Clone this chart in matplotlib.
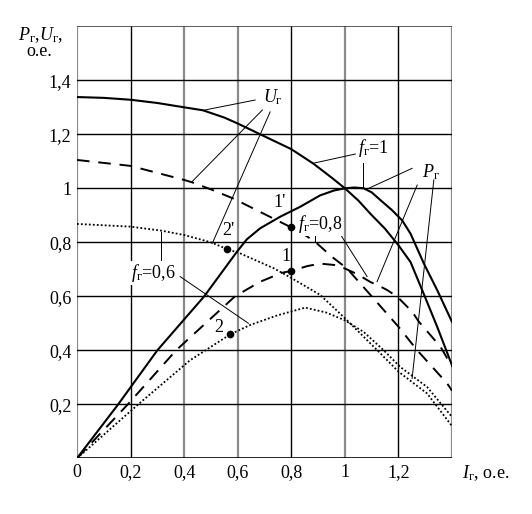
import matplotlib
matplotlib.use("Agg")
import matplotlib.pyplot as plt

plt.rcParams['font.family'] = ['Liberation Serif', 'DejaVu Serif']
plt.rcParams['mathtext.fontset'] = 'custom'
plt.rcParams['mathtext.rm'] = 'Liberation Serif'
plt.rcParams['mathtext.it'] = 'Liberation Serif:italic'

# U_g and P_g curves
u1_x = [0, 0.1, 0.2, 0.3, 0.4, 0.47, 0.55, 0.6, 0.684, 0.8, 0.883, 0.95, 1.0,
        1.05, 1.095, 1.15, 1.2, 1.245, 1.289, 1.345, 1.4]
u1_y = [1.338, 1.335, 1.328, 1.316, 1.30, 1.289, 1.262, 1.24, 1.20, 1.145, 1.091,
        1.04, 1.0, 0.955, 0.906, 0.85, 0.789, 0.727, 0.622, 0.486, 0.344]

p1_x = [0, 0.154, 0.3, 0.475, 0.597, 0.634, 0.684, 0.759, 0.834, 0.908, 0.96,
        1.0, 1.035, 1.07, 1.1, 1.133, 1.175, 1.214, 1.245, 1.295, 1.345, 1.4]
p1_y = [0, 0.2, 0.4, 0.6, 0.765, 0.811, 0.852, 0.895, 0.932, 0.974, 0.992,
        1.0, 1.003, 1.0, 0.985, 0.956, 0.92, 0.881, 0.832, 0.721, 0.622, 0.505]

u08_x = [0, 0.2, 0.4, 0.43, 0.5, 0.584, 0.709, 0.8, 0.834, 0.89, 0.952, 1.008,
         1.058, 1.108, 1.201, 1.27, 1.382, 1.4]
u08_y = [1.105, 1.083, 1.031, 1.022, 0.996, 0.962, 0.9, 0.855, 0.838, 0.801,
         0.746, 0.703, 0.647, 0.591, 0.486, 0.4, 0.277, 0.25]

p08_x = [0, 0.19, 0.37, 0.59, 0.684, 0.765, 0.8, 0.86, 0.908, 0.96, 1.0, 1.05,
         1.095, 1.133, 1.158, 1.195, 1.214, 1.251, 1.276, 1.357, 1.4]
p08_y = [0, 0.2, 0.4, 0.6, 0.654, 0.687, 0.694, 0.712, 0.721, 0.716, 0.703, 0.68,
         0.653, 0.636, 0.623, 0.599, 0.58, 0.543, 0.506, 0.413, 0.339]

u06_x = [0, 0.2, 0.316, 0.4, 0.5, 0.56, 0.609, 0.734, 0.8, 0.908, 1.0, 1.058,
         1.133, 1.201, 1.307, 1.4]
u06_y = [0.868, 0.858, 0.843, 0.827, 0.80, 0.775, 0.759, 0.704, 0.668, 0.605,
         0.519, 0.462, 0.388, 0.32, 0.24, 0.119]

p06_x = [0, 0.229, 0.422, 0.572, 0.647, 0.75, 0.852, 0.93, 1.0, 1.07, 1.145,
         1.207, 1.307, 1.4]
p06_y = [0, 0.2, 0.363, 0.459, 0.494, 0.53, 0.558, 0.54, 0.511, 0.468, 0.4,
         0.338, 0.264, 0.153]

# marked points 1', 1, 2', 2
pt_names = ["1'", "1", "2'", "2"]
pt_x = [0.8, 0.8, 0.56, 0.572]
pt_y = [0.855, 0.694, 0.775, 0.459]

x_ticks = [0, 0.2, 0.4, 0.6, 0.8, 1.0, 1.2, 1.4]
x_tick_labels = ["0", "0,2", "0,4", "0,6", "0,8", "1", "1,2", ""]
y_ticks = [0.2, 0.4, 0.6, 0.8, 1.0, 1.2, 1.4]
y_tick_labels = ["0,2", "0,4", "0,6", "0,8", "1", "1,2", "1,4"]
vgrid_gray = [True, False, True, True, False, True, False, True]

G = r"_{\mathrm{г}}"


def main():
    fig = plt.figure(figsize=(5.32, 5.14), dpi=100)
    ax = fig.add_axes([0.1447, 0.1084, 0.705, 0.8404])
    ax.set_xlim(0, 1.4)
    ax.set_ylim(0, 1.6)

    for xv, gray in zip(x_ticks, vgrid_gray):
        if gray:
            ax.axvline(xv, color="#8a8a8a", lw=1.6, zorder=1)
        else:
            ax.axvline(xv, color="black", lw=1.0, zorder=1)
    for yv in y_ticks:
        ax.axhline(yv, color="black", lw=1.0, zorder=1)
    ax.axhline(1.6, color="#404040", lw=1.2, zorder=1)
    for s in ax.spines.values():
        s.set_visible(False)
    ax.axhline(0, color="black", lw=1.2, zorder=1)

    ax.set_xticks(x_ticks)
    ax.set_xticklabels(x_tick_labels, fontsize=13)
    ax.set_yticks(y_ticks)
    ax.set_yticklabels(y_tick_labels, fontsize=13)
    ax.tick_params(length=0, pad=4)

    solid = dict(color="black", lw=1.5, zorder=3)
    dashed = dict(color="black", lw=1.4, linestyle=(0, (6.5, 4.5)), zorder=3)
    dotted = dict(color="black", lw=1.3, linestyle=(0, (1.0, 1.2)), zorder=3)
    ax.plot(u1_x, u1_y, **solid)
    ax.plot(p1_x, p1_y, **solid)
    ax.plot(u08_x, u08_y, **dashed)
    ax.plot(p08_x, p08_y, **dashed)
    ax.plot(u06_x, u06_y, **dotted)
    ax.plot(p06_x, p06_y, **dotted)

    ax.plot(pt_x, pt_y, "o", color="black", ms=4.5, zorder=4)

    # leader lines
    leaders = [
        ((0.665, 1.327), (0.472, 1.289)),
        ((0.692, 1.290), (0.429, 1.024)),
        ((0.721, 1.283), (0.505, 0.796)),
        ((1.039, 1.127), (0.883, 1.093)),
        ((1.068, 1.093), (1.068, 1.0)),
        ((1.251, 1.074), (1.089, 1.0)),
        ((1.27, 1.012), (1.12, 0.654)),
        ((1.332, 1.031), (1.251, 0.296)),
        ((0.89, 0.852), (0.89, 0.802)),
        ((0.977, 0.839), (1.083, 0.673)),
        ((0.314, 0.728), (0.314, 0.839)),
        ((0.385, 0.673), (0.64, 0.5)),
    ]
    for (x0, y0), (x1, y1) in leaders:
        ax.plot([x0, x1], [y0, y1], color="black", lw=0.7, zorder=2)

    fs = 13
    ax.text(0.733, 1.338, "$U" + G + "$", fontsize=fs, ha="center", va="center")
    ax.text(1.107, 1.149, "$f" + G + "$=1", fontsize=fs, ha="center", va="center")
    ax.text(1.32, 1.06, "$P" + G + "$", fontsize=fs, ha="center", va="center")
    ax.text(0.908, 0.867, "$f" + G + "$=0,8", fontsize=fs, ha="center", va="center",
            bbox=dict(fc="white", ec="none", pad=0.5), zorder=5)
    ax.text(0.284, 0.686, "$f" + G + "$=0,6", fontsize=fs, ha="center", va="center",
            bbox=dict(fc="white", ec="none", pad=0.5), zorder=5)
    lbl_pos = [(0.755, 0.949), (0.779, 0.749), (0.564, 0.842), (0.531, 0.483)]
    for name, (lx, ly) in zip(pt_names, lbl_pos):
        ax.text(lx, ly, name, fontsize=fs, ha="center", va="center")

    ax.text(-0.22, 1.568, "$P" + G + "$,$U" + G + "$,", fontsize=fs, ha="left",
            va="center")
    ax.text(-0.14, 1.505, "о.е.", fontsize=fs, ha="center", va="center")
    ax.text(1.438, -0.054, "$I" + G + "$, о.е.", fontsize=fs, ha="left",
            va="center")

    fig.savefig("out.png", dpi=100)


if __name__ == "__main__":
    main()
